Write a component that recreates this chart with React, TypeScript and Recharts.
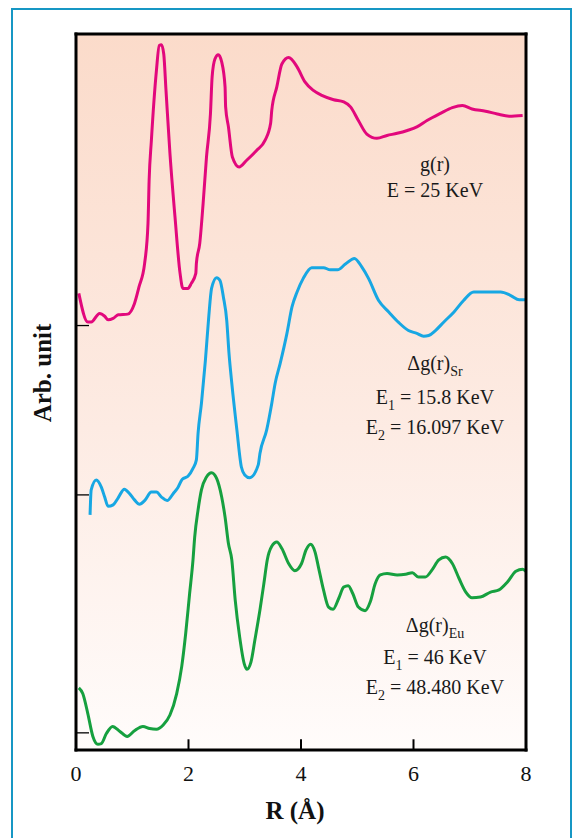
import React from 'react';
import { LineChart, Line, XAxis, YAxis, CartesianGrid, ReferenceLine } from 'recharts';

// g(r), E = 25 KeV  — [R (Å), arb. value]
const grPoints: [number, number][] = [
  [0.05, 6.39], [0.21, 5.99], [0.27, 5.99], [0.42, 6.11], [0.51, 6.07], [0.57, 6.02], [0.66, 6.04],
  [0.75, 6.09], [0.92, 6.1], [1.04, 6.25], [1.12, 6.48], [1.22, 6.81], [1.28, 7.37], [1.3, 7.97],
  [1.34, 8.53], [1.43, 9.51], [1.48, 9.86], [1.52, 9.87], [1.56, 9.74], [1.6, 9.23], [1.67, 8.35],
  [1.76, 7.46], [1.85, 6.67], [1.9, 6.46], [1.99, 6.46], [2.05, 6.53], [2.13, 6.67], [2.14, 6.81],
  [2.2, 7.09], [2.26, 7.65], [2.32, 8.3], [2.39, 8.9], [2.42, 9.42], [2.47, 9.67], [2.53, 9.73],
  [2.59, 9.63], [2.65, 9.28], [2.66, 9.0], [2.71, 8.72], [2.78, 8.3], [2.9, 8.16], [3.03, 8.25],
  [3.21, 8.39], [3.36, 8.53], [3.46, 8.77], [3.48, 8.95], [3.57, 9.28], [3.66, 9.6], [3.78, 9.69],
  [3.93, 9.56], [4.07, 9.35], [4.22, 9.23], [4.37, 9.16], [4.58, 9.1], [4.76, 9.07], [4.88, 9.0],
  [5.02, 8.81], [5.17, 8.62], [5.35, 8.56], [5.53, 8.6], [5.71, 8.63], [5.89, 8.67], [6.06, 8.72],
  [6.24, 8.81], [6.48, 8.91], [6.69, 8.99], [6.87, 9.02], [7.04, 8.97], [7.28, 8.94], [7.49, 8.9],
  [7.7, 8.87], [7.94, 8.88],
];

// Δg(r)Sr
const srPoints: [number, number][] = [
  [0.25, 3.29], [0.27, 3.64], [0.36, 3.78], [0.45, 3.68], [0.51, 3.54], [0.57, 3.41], [0.66, 3.43],
  [0.75, 3.53], [0.86, 3.65], [0.95, 3.59], [1.04, 3.5], [1.13, 3.44], [1.22, 3.49], [1.34, 3.61],
  [1.43, 3.61], [1.52, 3.54], [1.62, 3.49], [1.73, 3.59], [1.81, 3.67], [1.89, 3.79], [1.99, 3.83],
  [2.08, 3.94], [2.14, 4.06], [2.17, 4.43], [2.23, 4.85], [2.3, 5.45], [2.36, 6.06], [2.41, 6.46],
  [2.5, 6.61], [2.56, 6.57], [2.62, 6.34], [2.68, 6.01], [2.72, 5.55], [2.77, 5.13], [2.86, 4.48],
  [2.94, 3.96], [3.0, 3.85], [3.09, 3.81], [3.24, 3.99], [3.27, 4.15], [3.39, 4.48], [3.48, 4.85],
  [3.54, 5.13], [3.63, 5.41], [3.75, 5.83], [3.84, 6.2], [3.93, 6.41], [4.04, 6.6], [4.19, 6.75],
  [4.4, 6.75], [4.52, 6.72], [4.65, 6.72], [4.79, 6.8], [4.95, 6.88], [5.08, 6.76], [5.2, 6.6],
  [5.38, 6.29], [5.56, 6.13], [5.74, 5.98], [5.91, 5.87], [6.06, 5.83], [6.18, 5.79], [6.27, 5.8],
  [6.39, 5.87], [6.54, 5.99], [6.72, 6.13], [6.89, 6.29], [7.07, 6.41], [7.31, 6.41], [7.55, 6.41],
  [7.73, 6.36], [7.88, 6.3], [7.99, 6.3],
];

// Δg(r)Eu
const euPoints: [number, number][] = [
  [0.05, 0.87], [0.12, 0.79], [0.21, 0.51], [0.3, 0.19], [0.39, 0.08], [0.45, 0.09], [0.54, 0.23],
  [0.65, 0.33], [0.78, 0.26], [0.91, 0.19], [1.04, 0.27], [1.19, 0.33], [1.31, 0.3], [1.43, 0.29],
  [1.55, 0.35], [1.67, 0.49], [1.79, 0.79], [1.88, 1.17], [1.95, 1.63], [2.02, 2.19], [2.08, 2.66],
  [2.11, 2.98], [2.17, 3.36], [2.23, 3.64], [2.32, 3.82], [2.41, 3.88], [2.5, 3.8], [2.59, 3.54],
  [2.65, 3.26], [2.71, 2.89], [2.77, 2.66], [2.83, 2.1], [2.91, 1.58], [2.99, 1.21], [3.04, 1.13],
  [3.11, 1.23], [3.18, 1.54], [3.27, 1.96], [3.34, 2.33], [3.4, 2.66], [3.48, 2.85], [3.57, 2.91],
  [3.66, 2.82], [3.78, 2.61], [3.89, 2.51], [4.01, 2.61], [4.09, 2.8], [4.17, 2.88], [4.25, 2.77],
  [4.31, 2.56], [4.4, 2.24], [4.49, 2.0], [4.57, 1.97], [4.67, 2.12], [4.76, 2.28], [4.84, 2.3],
  [4.92, 2.19], [5.02, 2.0], [5.14, 1.95], [5.23, 2.07], [5.32, 2.33], [5.41, 2.45], [5.53, 2.47],
  [5.71, 2.45], [5.86, 2.46], [5.98, 2.48], [6.09, 2.42], [6.21, 2.42], [6.33, 2.52], [6.45, 2.66],
  [6.57, 2.7], [6.69, 2.61], [6.81, 2.4], [6.93, 2.21], [7.04, 2.13], [7.19, 2.14], [7.37, 2.21],
  [7.52, 2.24], [7.67, 2.35], [7.82, 2.5], [7.94, 2.53], [8.0, 2.5],
];

const xTicks = [0, 2, 4, 6, 8];
const yTicks = [0.24, 3.57, 5.94];
const xDomain: [number, number] = [0, 8];
const yDomain: [number, number] = [0, 10.02];
const xTickMarkLen = 0.15; // inward tick mark length, in y-axis units

const toRows = (pts: [number, number][]) => pts.map(([r, v]) => ({ r, v }));
const grData = toRows(grPoints);
const srData = toRows(srPoints);
const euData = toRows(euPoints);

const serif = '"Times New Roman", "Liberation Serif", Tinos, "DejaVu Serif", serif';

// bottom axis tick label
const XTick = (props: any) => {
  const { x, y, payload } = props;
  return (
    <text x={x} y={y + 30.5} textAnchor="middle" fontFamily={serif} fontSize={22} fill="#111">
      {payload.value}
    </text>
  );
};

// left axis tick: short inward mark, no label
const YTick = (props: any) => {
  const { x, y } = props;
  return <line x1={x} y1={y} x2={x + 13} y2={y} stroke="#000" strokeWidth={1.3} />;
};

const Ann: React.FC<{ y: number; children: React.ReactNode }> = ({ y, children }) => (
  <div
    style={{
      position: 'absolute',
      left: 435,
      top: y - 11,
      transform: 'translateX(-50%)',
      fontFamily: serif,
      fontSize: 20,
      lineHeight: '22px',
      color: '#1a1a1a',
      whiteSpace: 'nowrap',
    }}
  >
    {children}
  </div>
);

const Sub: React.FC<{ children: React.ReactNode }> = ({ children }) => (
  <span style={{ fontSize: 14, position: 'relative', top: 6 }}>{children}</span>
);

export default function App() {
  return (
    <div style={{ position: 'relative', width: 572, height: 838, overflow: 'hidden', background: '#fff' }}>
      <style>{`body{margin:0;overflow:hidden;}`}</style>
      <div
        style={{
          position: 'absolute',
          left: 10.5,
          top: 7.5,
          width: 561,
          height: 840,
          boxSizing: 'border-box',
          borderTop: '2.5px solid #1697c4',
          borderLeft: '2.5px solid #1697c4',
          borderRight: '2.5px solid #1697c4',
        }}
      />
      <div style={{ position: 'absolute', left: 0, top: 0 }}>
        <LineChart width={572} height={838} margin={{ top: 32, right: 44, bottom: 48, left: 46 }}>
          <defs>
            <linearGradient id="bgGrad" x1="0" y1="0" x2="0" y2="1">
              <stop offset="0%" stopColor="#fbdbca" />
              <stop offset="55%" stopColor="#fdebe3" />
              <stop offset="100%" stopColor="#fffcfb" />
            </linearGradient>
          </defs>
          <CartesianGrid
            xAxisId="b"
            yAxisId="l"
            horizontal={false}
            vertical={false}
            stroke="none"
            fill="url(#bgGrad)"
            fillOpacity={1}
          />
          <XAxis
            xAxisId="b"
            type="number"
            dataKey="r"
            domain={xDomain}
            ticks={xTicks}
            allowDataOverflow
            height={40}
            axisLine={{ stroke: '#000', strokeWidth: 3, strokeLinecap: 'square' }}
            tickLine={false}
            tickSize={0}
            tickMargin={0}
            tick={<XTick />}
          />
          <XAxis
            xAxisId="t"
            orientation="top"
            type="number"
            dataKey="r"
            domain={xDomain}
            allowDataOverflow
            height={2}
            axisLine={{ stroke: '#000', strokeWidth: 3, strokeLinecap: 'square' }}
            tickLine={false}
            tick={false}
          />
          <YAxis
            yAxisId="l"
            type="number"
            domain={yDomain}
            ticks={yTicks}
            allowDataOverflow
            width={30}
            axisLine={{ stroke: '#000', strokeWidth: 3, strokeLinecap: 'square' }}
            tickLine={false}
            tickSize={0}
            tickMargin={0}
            tick={<YTick />}
          />
          <YAxis
            yAxisId="r"
            orientation="right"
            type="number"
            domain={yDomain}
            allowDataOverflow
            width={2}
            axisLine={{ stroke: '#000', strokeWidth: 3, strokeLinecap: 'square' }}
            tickLine={false}
            tick={false}
          />
          {xTicks.slice(1, -1).map((t) => (
            <ReferenceLine
              key={t}
              xAxisId="b"
              yAxisId="l"
              segment={[
                { x: t, y: yDomain[0] },
                { x: t, y: yDomain[0] + xTickMarkLen },
              ]}
              stroke="#000"
              strokeWidth={2}
            />
          ))}
          <Line xAxisId="b" yAxisId="l" data={grData} dataKey="v" type="monotone" stroke="#e2087c" strokeWidth={3} dot={false} isAnimationActive={false} />
          <Line xAxisId="b" yAxisId="l" data={srData} dataKey="v" type="monotone" stroke="#17a7e3" strokeWidth={3} dot={false} isAnimationActive={false} />
          <Line xAxisId="b" yAxisId="l" data={euData} dataKey="v" type="monotone" stroke="#16a03f" strokeWidth={3} dot={false} isAnimationActive={false} />
        </LineChart>
      </div>

      <Ann y={164}>g(r)</Ann>
      <Ann y={190}>E = 25 KeV</Ann>

      <Ann y={363}>
        Δg(r)<Sub>Sr</Sub>
      </Ann>
      <Ann y={397}>
        E<Sub>1</Sub> = 15.8 KeV
      </Ann>
      <Ann y={427}>
        E<Sub>2</Sub> = 16.097 KeV
      </Ann>

      <Ann y={625}>
        Δg(r)<Sub>Eu</Sub>
      </Ann>
      <Ann y={657}>
        E<Sub>1</Sub> = 46 KeV
      </Ann>
      <Ann y={687}>
        E<Sub>2</Sub> = 48.480 KeV
      </Ann>

      <div
        style={{
          position: 'absolute',
          left: 42,
          top: 373,
          transform: 'translate(-50%, -50%) rotate(-90deg)',
          fontFamily: serif,
          fontWeight: 'bold',
          fontSize: 25,
          lineHeight: '25px',
          color: '#111',
          whiteSpace: 'nowrap',
        }}
      >
        Arb. unit
      </div>
      <div
        style={{
          position: 'absolute',
          left: 295,
          top: 798,
          transform: 'translateX(-50%)',
          fontFamily: serif,
          fontWeight: 'bold',
          fontSize: 25,
          lineHeight: '25px',
          color: '#111',
          whiteSpace: 'nowrap',
        }}
      >
        R (Å)
      </div>
    </div>
  );
}
